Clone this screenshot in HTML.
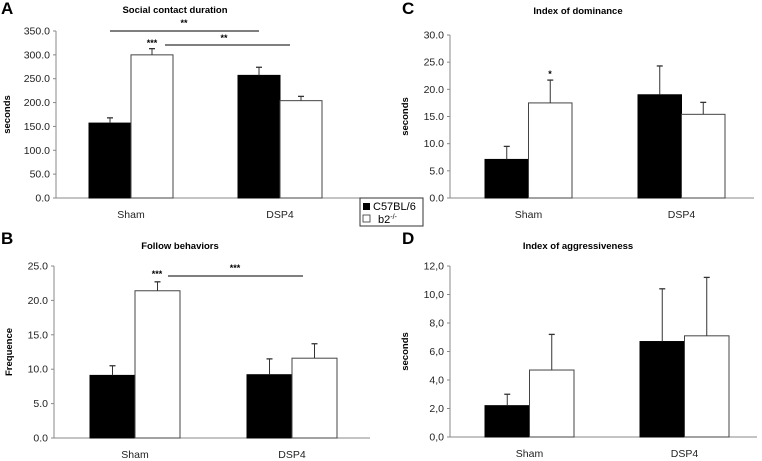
<!DOCTYPE html>
<html><head><meta charset="utf-8"><style>
html,body{margin:0;padding:0;background:#fff;}
svg{display:block;font-family:"Liberation Sans",sans-serif;}
</style></head><body>
<svg id="fig" width="762" height="461" viewBox="0 0 762 461"></svg>
<script>
const categories = ["Sham","DSP4"];
const aMeans = [157,300,257,204];
const aErr = [168,313,274,213];
const aTicks = ["0.0","50.0","100.0","150.0","200.0","250.0","300.0","350.0"];
const bMeans = [9.1,21.4,9.2,11.6];
const bErr = [10.5,22.7,11.5,13.7];
const bTicks = ["0.0","5.0","10.0","15.0","20.0","25.0"];
const cMeans = [7.1,17.5,19.0,15.4];
const cErr = [9.5,21.7,24.3,17.6];
const cTicks = ["0.0","5.0","10.0","15.0","20.0","25.0","30.0"];
const dMeans = [2.2,4.7,6.7,7.1];
const dErr = [3.0,7.2,10.4,11.2];
const dTicks = ["0,0","2,0","4,0","6,0","8,0","10,0","12,0"];

const NS="http://www.w3.org/2000/svg";
const svg=document.getElementById('fig');
function mk(tag,attrs,parent,text){const e=document.createElementNS(NS,tag);for(const k in attrs)e.setAttribute(k,attrs[k]);if(text!==undefined)e.textContent=text;(parent||svg).appendChild(e);return e;}

function panel(p){
  const g=mk('g',{});
  
  
  const max=parseFloat(p.ticks[p.ticks.length-1].replace(',','.'));
  const y=v=>p.y0-(v/max)*(p.y0-p.yTop);
  const t=mk('text',{x:p.letterX,y:p.letterY,'font-size':17,'font-weight':'bold'},g,p.letter);
  
  const ti=mk('text',{x:p.titleX,y:p.titleY,'font-size':9.5,'font-weight':'bold','text-anchor':'middle'},g,p.title);
  
  const yl=mk('text',{x:0,y:0,'font-size':9.5,'font-weight':'bold','text-anchor':'middle',transform:`translate(${p.ylabX},${(p.y0+p.yTop)/2}) rotate(-90)`},g,p.ylabel);
  
  mk('line',{x1:p.ax,y1:p.yTop,x2:p.ax,y2:p.y0,stroke:'#888','stroke-width':1},g);
  mk('line',{x1:p.ax,y1:p.y0,x2:p.right,y2:p.y0,stroke:'#888','stroke-width':1},g);
  p.ticks.forEach(s=>{const v=parseFloat(s.replace(',','.'));const yy=y(v);
    mk('line',{x1:p.ax-3,y1:yy,x2:p.ax,y2:yy,stroke:'#888'},g);
    const tl=mk('text',{x:p.ax-6,y:yy+3.5,'font-size':10.5,'text-anchor':'end',fill:'#222'},g,s);
    });
  const bw=p.bw;
  p.means.forEach((m,i)=>{
    const ci=Math.floor(i/2),si=i%2;
    const x=p.groupX[ci]+si*bw;
    const r=mk('rect',{x:x,y:y(m),width:bw,height:p.y0-y(m),fill:si?'#fff':'#000',stroke:si?'#444':'#000','stroke-width':1},g);
    
    
    const cx=x+bw/2, ye=y(p.err[i]);
    mk('line',{x1:cx,y1:y(m),x2:cx,y2:ye,stroke:'#333','stroke-width':1},g);
    mk('line',{x1:cx-3,y1:ye,x2:cx+3,y2:ye,stroke:'#333','stroke-width':1.3},g);
  });
  categories.forEach((c,ci)=>{
    const cl=mk('text',{x:p.groupX[ci]+bw,y:p.y0+20,'font-size':10.5,'text-anchor':'middle',fill:'#222'},g,c);
    
  });
  (p.sig||[]).forEach(s=>{
    if(s.line) mk('line',{x1:s.line[0],y1:s.line[2],x2:s.line[1],y2:s.line[2],stroke:'#333','stroke-width':1.3},g);
    const st=mk('text',{x:s.x,y:s.y,'font-size':9,'font-weight':'bold','text-anchor':'middle'},g,s.t);
    
  });
}

panel({name:'panel-a-social-contact',letter:'A',letterX:1,letterY:14,title:'Social contact duration',titleX:175,titleY:13,ylabel:'seconds',ylabX:10,
  ax:56,yTop:31,y0:198,right:370,ticks:aTicks,means:aMeans,err:aErr,groupX:[89,238],bw:42,
  sig:[{line:[110,259,31],x:184,y:26,t:'**'},{x:152,y:46,t:'***'},{line:[165,290,45],x:224,y:41,t:'**'}]});
panel({name:'panel-b-follow',letter:'B',letterX:1,letterY:244,title:'Follow behaviors',titleX:180,titleY:249,ylabel:'Frequence',ylabX:12,
  ax:54,yTop:266,y0:438,right:370,ticks:bTicks,means:bMeans,err:bErr,groupX:[90,247],bw:45,
  sig:[{x:157,y:277,t:'***'},{line:[168,303,276],x:235,y:271,t:'***'}]});
panel({name:'panel-c-dominance',letter:'C',letterX:402,letterY:14,title:'Index of dominance',titleX:578,titleY:14,ylabel:'seconds',ylabX:408,
  ax:450,yTop:35,y0:198,right:754,ticks:cTicks,means:cMeans,err:cErr,groupX:[485,638],bw:43.5,
  sig:[{x:550,y:77,t:'*'}]});
panel({name:'panel-d-aggressiveness',letter:'D',letterX:402,letterY:244,title:'Index of aggressiveness',titleX:578,titleY:249,ylabel:'seconds',ylabX:408,
  ax:450,yTop:266,y0:437,right:757,ticks:dTicks,means:dMeans,err:dErr,groupX:[485,640],bw:44.5});

const lg=mk('g',{});

mk('rect',{x:360,y:198,width:63,height:28,fill:'#fff',stroke:'#333'},lg);
const e1=mk('g',{},lg);
mk('rect',{x:363,y:203,width:7,height:7,fill:'#000'},e1);
mk('text',{x:373,y:210,'font-size':11},e1,'C57BL/6');
const e2=mk('g',{},lg);
mk('rect',{x:363,y:215,width:7,height:7,fill:'#fff',stroke:'#333','stroke-width':0.8},e2);
const tt=mk('text',{x:378,y:223,'font-size':11},e2,'b2');
mk('tspan',{dy:-4,'font-size':7},tt,'-/-');
</script>
</body></html>
